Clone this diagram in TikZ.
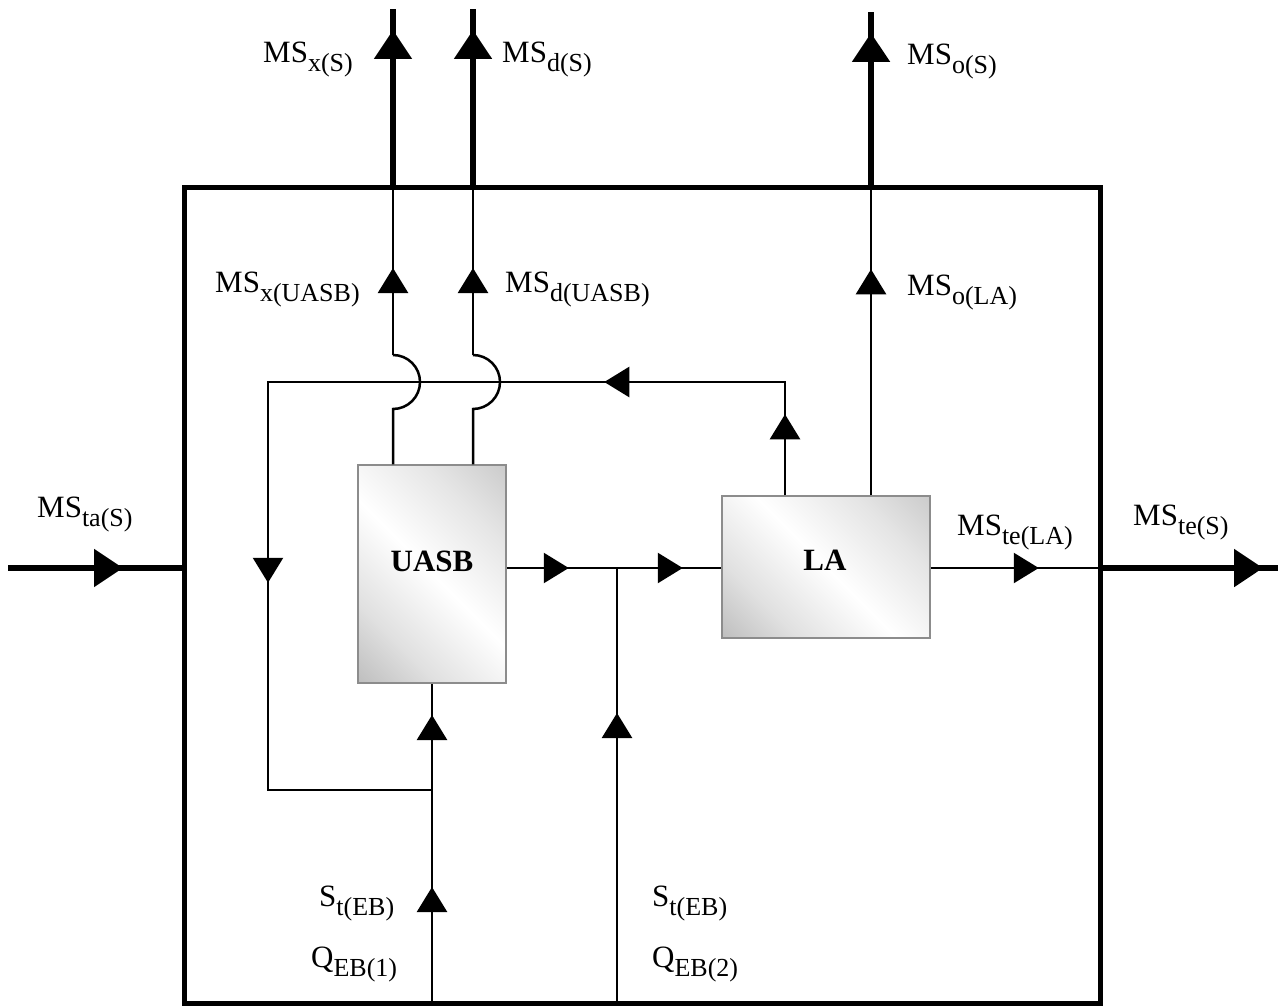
\documentclass[tikz,border=0pt]{standalone}
\usepackage{fontspec}
\setmainfont{Liberation Serif}
\usetikzlibrary{arrows.meta,decorations.markings}
\pgfdeclarehorizontalshading{boxshade}{100bp}{color(0bp)=(black!38); color(30bp)=(black!12); color(50bp)=(white); color(70bp)=(black!10); color(100bp)=(black!30)}
\newcommand\msl[2]{#1\raisebox{-9pt}{\fontsize{26}{26}\selectfont #2}}
\tikzset{
  wire/.style={line width=2.5pt},
  bus/.style={line width=5.5pt},
  frame/.style={line width=5pt},
  tipA/.tip={Triangle[width=30pt,length=25pt]},
  tipB/.tip={Triangle[width=37pt,length=29pt]},
  tipat/.style 2 args={postaction={decorate,decoration={markings,mark=at position #1pt with {\arrow{#2}}}}},
  procbox/.style={draw=black!45, line width=1.5pt, shading=boxshade, shading angle=45},
  boxlabel/.style={font=\fontsize{31}{31}\selectfont\bfseries, inner sep=0pt},
  flowlabel/.style={font=\fontsize{31}{31}\selectfont, anchor=base west, inner sep=0pt},
}
\begin{document}
\begin{tikzpicture}[x=1pt,y=-1pt]
\useasboundingbox (0,0) rectangle (1281,1008);
\draw[frame] (184,188) rectangle (1100,1003);
% process boxes
\node[procbox, minimum width=148pt, minimum height=218pt] (uasb) at (432,574) {};
\node[boxlabel] (uasbL) at (432,561) {UASB};
\node[procbox, minimum width=208pt, minimum height=142pt] (la) at (826,567) {};
\node[boxlabel] (laL) at (825,560) {LA};
% coordinates
\coordinate (inS) at (8,568);
\coordinate (inB) at (184,568);
\coordinate (outB) at (1100,568);
\coordinate (outS) at (1278,568);
\coordinate (xB) at (393,188); \coordinate (xS) at (393,9);
\coordinate (dB) at (473,188); \coordinate (dS) at (473,9);
\coordinate (oB) at (871,189); \coordinate (oS) at (871,12);
\coordinate (xH1) at (393,409); \coordinate (xH2) at (393,355);
\coordinate (dH1) at (473,409); \coordinate (dH2) at (473,355);
\coordinate (fb1) at (785,382); \coordinate (fb2) at (268,382);
\coordinate (fb3) at (268,790); \coordinate (j1) at (432,790);
\coordinate (b1) at (432,1003); \coordinate (b2) at (617,1003);
\coordinate (j2) at (617,568);
% external streams
\draw[bus, tipat={115}{tipB}] (inS) -- (inB);
\draw[wire, tipat={108}{tipA}] (la.east |- outB) -- (outB);
\draw[bus, tipat={163}{tipB}] (outB) -- (outS);
\draw[bus, tipat={158}{tipB}] (xB) -- (xS);
\draw[bus, tipat={158}{tipB}] (dB) -- (dS);
\draw[bus, tipat={156}{tipB}] (oB) -- (oS);
% internal streams with hops
\draw[wire] (xH1 |- uasb.north) -- (xH1) arc[start angle=-90, end angle=90, radius=27pt];
\draw[wire, tipat={87}{tipA}] (xH2) -- (xB);
\draw[wire] (dH1 |- uasb.north) -- (dH1) arc[start angle=-90, end angle=90, radius=27pt];
\draw[wire, tipat={87}{tipA}] (dH2) -- (dB);
\draw[wire, tipat={226}{tipA}] (oB |- la.north) -- (oB);
% recycle
\draw[wire, tipat={81}{tipA}, tipat={294}{tipA}, tipat={831}{tipA}] (fb1 |- la.north) -- (fb1) -- (fb2) -- (fb3) -- (j1);
% main line
\draw[wire, tipat={62}{tipA}, tipat={176}{tipA}] (uasb.east |- j2) -- (la.west |- j2);
% feeds
\draw[wire, tipat={116}{tipA}, tipat={288}{tipA}] (b1) -- (b1 |- uasb.south);
\draw[wire, tipat={290}{tipA}] (b2) -- (j2);
% labels
\node[flowlabel] (lxS) at (263,63) {\msl{MS}{x(S)}};
\node[flowlabel] (ldS) at (502,63) {\msl{MS}{d(S)}};
\node[flowlabel] (loS) at (907,65) {\msl{MS}{o(S)}};
\node[flowlabel] (lxU) at (215,292) {\msl{MS}{x(UASB)}};
\node[flowlabel] (ldU) at (505,292) {\msl{MS}{d(UASB)}};
\node[flowlabel] (loL) at (907,295) {\msl{MS}{o(LA)}};
\node[flowlabel] (lta) at (37,517) {\msl{MS}{ta(S)}};
\node[flowlabel] (lteL) at (957,535) {\msl{MS}{te(LA)}};
\node[flowlabel] (lteS) at (1133,525) {\msl{MS}{te(S)}};
\node[flowlabel] (ls1) at (319,906) {\msl{S}{t(EB)}};
\node[flowlabel] (lq1) at (311,967) {\msl{Q}{EB(1)}};
\node[flowlabel] (ls2) at (652,906) {\msl{S}{t(EB)}};
\node[flowlabel] (lq2) at (652,967) {\msl{Q}{EB(2)}};
\end{tikzpicture}
\end{document}
